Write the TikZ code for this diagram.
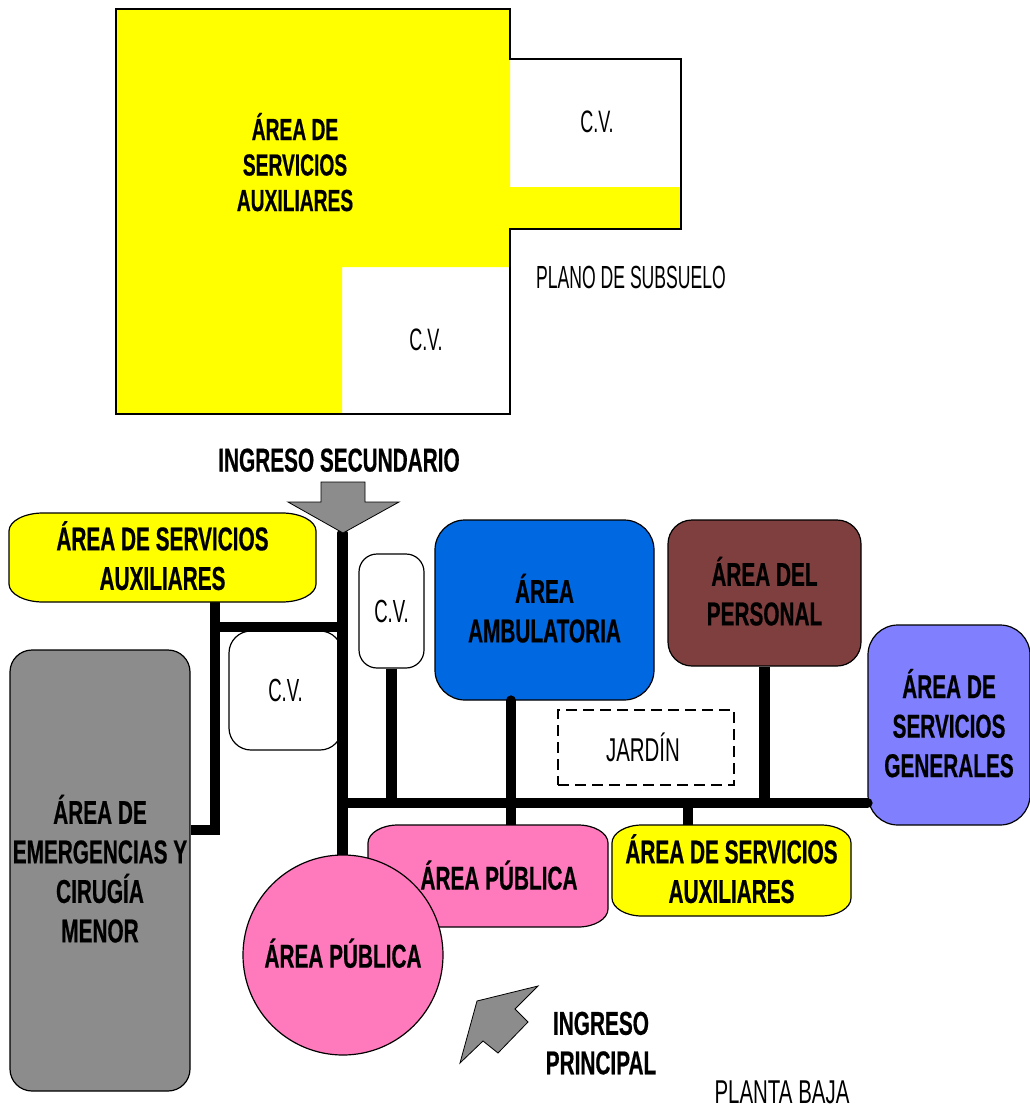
\documentclass[tikz,border=0pt]{standalone}
\usepackage{fontspec}
\setmainfont{Liberation Sans}
\newfontfamily\boldlab[FakeStretch=0.63,FakeBold=0.5,UprightFont={* Bold}]{Liberation Sans}
\newfontfamily\lightlab[FakeStretch=0.58]{Liberation Sans}
\newfontfamily\lightnarrow[FakeStretch=0.55]{Liberation Sans}
\newfontfamily\lightwide[FakeStretch=0.62]{Liberation Sans}
\definecolor{yel}{HTML}{FFFF00}
\definecolor{blu}{HTML}{0068E0}
\definecolor{bro}{HTML}{7F3F3F}
\definecolor{vio}{HTML}{8080FF}
\definecolor{gra}{HTML}{8C8C8C}
\definecolor{pin}{HTML}{FF7ABC}
\pgfdeclarelayer{back}
\pgfdeclarelayer{links}
\pgfsetlayers{back,links,main}
\tikzset{
  area/.style={draw=black,line width=1.2pt,align=center,inner sep=0pt,text=black,text depth=4pt,
    font=\fontsize{33}{39.5}\boldlab\selectfont,rectangle},
  cvbox/.style={area,fill=white,text depth=0pt,font=\fontsize{32}{36}\lightlab\selectfont},
  blocktext/.style={align=center,inner sep=0pt,text depth=4pt,font=\fontsize{33}{39.5}\boldlab\selectfont},
  thin label/.style={align=center,inner sep=0pt,font=\fontsize{31}{36}\lightlab\selectfont},
  frameline/.style={draw=black,line width=2pt},
  conn/.style={draw=black,line width=10.5pt},
  entry/.style={draw=black,fill=gra,line width=0.8pt},
  softoutline/.style={draw=black,line width=1.2pt}
}
% soft box with elliptical corners: x0 y0 x1 y1 rx ry fill
\newcommand{\softshape}[7]{%
  \path[softoutline,fill=#7] (#1+#5,#2) -- (#3-#5,#2)
   .. controls (#3-0.45*#5,#2) and (#3,#2+0.45*#6) .. (#3,#2+#6)
   -- (#3,#4-#6)
   .. controls (#3,#4-0.45*#6) and (#3-0.45*#5,#4) .. (#3-#5,#4)
   -- (#1+#5,#4)
   .. controls (#1+0.45*#5,#4) and (#1,#4-0.45*#6) .. (#1,#4-#6)
   -- (#1,#2+#6)
   .. controls (#1,#2+0.45*#6) and (#1+0.45*#5,#2) .. (#1+#5,#2) -- cycle;}
\begin{document}
\begin{tikzpicture}[x=1pt,y=-1pt]
\useasboundingbox (0,0) rectangle (1030,1108);
% --- subsoil plan ---
\fill[yel] (116,9) -- (510,9) -- (510,187) -- (681,187) -- (681,229) -- (510,229) -- (510,267) -- (342,267) -- (342,414) -- (116,414) -- cycle;
\path[frameline] (116,9) -- (510,9) -- (510,59) -- (681,59) -- (681,229) -- (510,229) -- (510,414) -- (116,414) -- cycle;
\node[blocktext,font=\fontsize{30.5}{35.5}\boldlab\selectfont] (subaux) at (295,164) {ÁREA DE\\SERVICIOS\\AUXILIARES};
\node[thin label] (subcv1) at (597,122) {C.V.};
\node[thin label] (subcv2) at (426,340) {C.V.};
\node[thin label,font=\fontsize{32}{36}\lightnarrow\selectfont] (subplan) at (631,277) {PLANO DE SUBSUELO};
% --- ground floor: boxes the links run over ---
\begin{pgfonlayer}{back}
\node[cvbox,rounded corners=22pt,minimum width=113pt,minimum height=119pt] (cvl) at (285.5,690.5) {C.V.};
\node[cvbox,rounded corners=18pt,minimum width=65pt,minimum height=114pt] (cvs) at (391.5,611) {C.V.};
\node[area,fill=blu,rounded corners=30pt,minimum width=219pt,minimum height=180pt] (amb) at (544.5,610) {ÁREA\\AMBULATORIA};
\node[area,fill=bro,rounded corners=24pt,minimum width=193pt,minimum height=146pt] (per) at (764.5,593) {ÁREA DEL\\PERSONAL};
\node[area,fill=vio,rounded corners=30pt,minimum width=162pt,minimum height=200pt] (gen) at (949,725) {ÁREA DE\\SERVICIOS\\GENERALES};
\node[area,fill=gra,rounded corners=22pt,minimum width=180pt,minimum height=441pt] (eme) at (100,870.5) {ÁREA DE\\EMERGENCIAS Y\\CIRUGÍA\\MENOR};
\end{pgfonlayer}
% --- boxes that sit over the links ---
\softshape{9}{513}{316}{602}{34}{18}{yel}
\node[blocktext,minimum width=307pt,minimum height=89pt] (aux1) at (162.5,557.5) {ÁREA DE SERVICIOS\\AUXILIARES};
\softshape{368}{825}{608}{927}{30}{18}{pin}
\node[blocktext,minimum width=240pt,minimum height=102pt] (pub2) at (499,877) {ÁREA PÚBLICA};
\softshape{612}{825}{851}{916}{30}{18}{yel}
\node[blocktext,minimum width=239pt,minimum height=91pt] (aux2) at (731.5,870.5) {ÁREA DE SERVICIOS\\AUXILIARES};
\node[area,fill=pin,circle,minimum size=200pt] (pub1) at (343,955) {ÁREA PÚBLICA};
\node[thin label,font=\fontsize{33}{36}\lightwide\selectfont,draw=black,line width=1.2pt,dash pattern=on 11pt off 6pt,minimum width=176pt,minimum height=75pt] (jar) at (646,747.5) {JARDÍN\hspace*{6pt}};
% --- connectors ---
\coordinate (trunktop) at (342.5,533);
\coordinate (jl) at (342.5,627);
\coordinate (jm) at (342.5,803);
\coordinate (ja) at (215,627);
\coordinate (je) at (215,830);
\coordinate (sa) at (511,803);
\coordinate (sb) at (688,803);
\begin{pgfonlayer}{links}
\draw[conn,line cap=round] (trunktop) -- (pub1.north -| trunktop);
\draw[conn,line cap=round] (jm) -- (gen.west |- jm);
\draw[conn] (jl) -- (ja);
\draw[conn,line join=miter] (ja |- aux1.south) -- (je) -- (eme.east |- je);
\draw[conn] (cvs.south) -- (cvs.south |- jm);
\draw[conn,line cap=round] (sa |- amb.south) -- (sa |- pub2.north);
\draw[conn] (per.south) -- (per.south |- jm);
\draw[conn,line width=10pt] (sb) -- (sb |- aux2.north);
\end{pgfonlayer}
% --- entries ---
\path[entry] (321,482) -- (365,482) -- (365,502) -- (399,502) -- (343,533) -- (288,502) -- (321,502) -- cycle;
\path[entry] (538,986) -- (477,1001) -- (460,1063) -- (483,1041) -- (498,1053) -- (528,1022) -- (515,1009) -- cycle;
\node[blocktext] (ingsec) at (339,462) {INGRESO SECUNDARIO};
\node[blocktext] (ingpri) at (601,1045) {INGRESO\\PRINCIPAL};
\node[thin label,font=\fontsize{33}{36}\lightwide\selectfont] (baja) at (782,1092) {PLANTA BAJA};
\end{tikzpicture}
\end{document}
